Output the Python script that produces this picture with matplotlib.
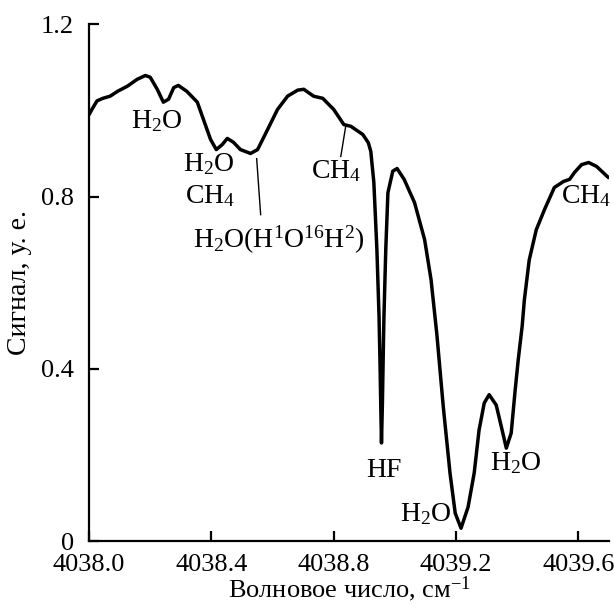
#!/usr/bin/env python3
# -*- coding: utf-8 -*-
"""Absorption spectrum near 4039 cm^-1 with line assignments."""
import matplotlib
matplotlib.use("Agg")
import matplotlib.pyplot as plt

plt.rcParams["font.family"] = ["Liberation Serif", "DejaVu Serif"]
plt.rcParams["mathtext.fontset"] = "custom"
plt.rcParams["mathtext.rm"] = "Liberation Serif"
plt.rcParams["mathtext.it"] = "Liberation Serif:italic"
plt.rcParams["mathtext.default"] = "regular"

# spectrum
wavenumber = [
    4038.000, 4038.010, 4038.026, 4038.045, 4038.069, 4038.095, 4038.125,
    4038.157, 4038.184, 4038.200, 4038.223, 4038.243, 4038.260, 4038.277,
    4038.292, 4038.320, 4038.354, 4038.374, 4038.397, 4038.416, 4038.436,
    4038.452, 4038.472, 4038.495, 4038.528, 4038.551, 4038.584, 4038.616,
    4038.649, 4038.682, 4038.702, 4038.734, 4038.764, 4038.800, 4038.833,
    4038.856, 4038.895, 4038.913, 4038.921, 4038.931, 4038.941, 4038.948,
    4038.951, 4038.954, 4038.956, 4038.959, 4038.962, 4038.964, 4038.970,
    4038.977, 4038.993, 4039.007, 4039.030, 4039.064, 4039.097, 4039.118,
    4039.137, 4039.158, 4039.180, 4039.197, 4039.216, 4039.239, 4039.259,
    4039.275, 4039.292, 4039.308, 4039.331, 4039.348, 4039.364, 4039.380,
    4039.393, 4039.403, 4039.416, 4039.423, 4039.439, 4039.462, 4039.489,
    4039.521, 4039.551, 4039.571, 4039.587, 4039.610, 4039.633, 4039.659,
    4039.698,
]
signal = [
    0.990, 1.003, 1.022, 1.028, 1.033, 1.045, 1.056,
    1.072, 1.081, 1.077, 1.049, 1.019, 1.026, 1.053,
    1.058, 1.044, 1.019, 0.979, 0.933, 0.909, 0.921,
    0.935, 0.926, 0.909, 0.900, 0.909, 0.956, 1.002,
    1.033, 1.047, 1.049, 1.033, 1.028, 1.002, 0.967,
    0.963, 0.944, 0.925, 0.905, 0.833, 0.677, 0.521,
    0.420, 0.300, 0.228, 0.320, 0.444, 0.520, 0.677,
    0.809, 0.859, 0.865, 0.840, 0.786, 0.700, 0.607,
    0.480, 0.312, 0.158, 0.065, 0.030, 0.079, 0.158,
    0.258, 0.321, 0.340, 0.316, 0.265, 0.216, 0.251,
    0.351, 0.421, 0.500, 0.560, 0.653, 0.723, 0.770,
    0.821, 0.835, 0.840, 0.856, 0.874, 0.879, 0.870,
    0.844,
]

# line assignments: text, text position, optional leader on the curve
label_text = [
    "H$_2$O", "H$_2$O", "CH$_4$", "H$_2$O(H$^1$O$^{16}$H$^2$)", "CH$_4$",
    "HF", "H$_2$O", "H$_2$O", "CH$_4$",
]
label_x = [4038.223, 4038.39, 4038.397, 4038.62, 4038.807,
           4038.963, 4039.10, 4039.395, 4039.625]
label_y = [0.975, 0.875, 0.80, 0.70, 0.86, 0.165, 0.062, 0.18, 0.80]
leader_start = [None, None, None, (4038.561, 0.758), (4038.823, 0.893),
                None, None, None, None]
leader_end = [None, None, None, (4038.548, 0.888), (4038.839, 0.963),
              None, None, None, None]

x_ticks = [4038.0, 4038.4, 4038.8, 4039.2, 4039.6]
y_ticks = [0, 0.4, 0.8, 1.2]
y_tick_labels = ["0", "0.4", "0.8", "1.2"]

fig = plt.figure(figsize=(6.14, 6.06), dpi=100)
axe = fig.add_axes([0.145, 0.107, 0.847, 0.853])

axe.plot(wavenumber, signal, color="black", lw=2.5,
         solid_joinstyle="round", solid_capstyle="round")

for text, tx, ty, start, end in zip(label_text, label_x, label_y,
                                    leader_start, leader_end):
    axe.text(tx, ty, text, fontsize=20, ha="center", va="center")
    if start is not None:
        axe.plot([start[0], end[0]], [start[1], end[1]], color="black",
                 lw=1.0)

axe.set_xlim(4038.0, 4039.7)
axe.set_ylim(0, 1.2)
axe.set_xticks(x_ticks)
axe.set_xticklabels([f"{t:.1f}" for t in x_ticks])
axe.set_yticks(y_ticks)
axe.set_yticklabels(y_tick_labels)

for side in ("top", "right"):
    axe.spines[side].set_visible(False)
for side in ("left", "bottom"):
    axe.spines[side].set_linewidth(1.6)

axe.tick_params(direction="in", length=7, width=1.6, labelsize=19)
axe.tick_params(axis="y", pad=11)
axe.tick_params(axis="x", pad=9)

axe.set_xlabel("Волновое число, см$^{-1}$", fontsize=19, labelpad=-1)
axe.set_ylabel("Сигнал, у. е.", fontsize=20, labelpad=6)

fig.savefig("out.png", dpi=100)
